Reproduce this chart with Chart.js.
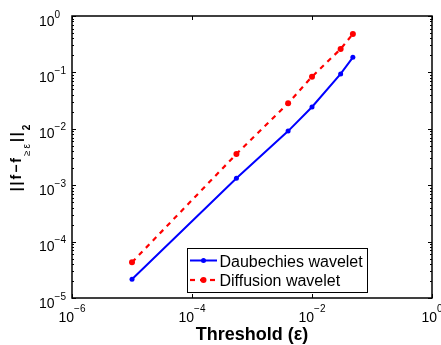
<!DOCTYPE html>
<html>
<head>
<meta charset="utf-8">
<script src="https://cdn.jsdelivr.net/npm/chart.js@4.4.0/dist/chart.umd.min.js"></script>
<style>
  html, body { margin: 0; padding: 0; background: #fff; }
  #wrap { width: 441px; height: 345px; }
</style>
</head>
<body>
<div id="wrap"><canvas id="errChart" width="441" height="345"></canvas></div>
<script>
// threshold values and the l2 error of each reconstruction
var threshold = [1e-5, 5.5e-4, 4e-3, 1e-2, 3e-2, 4.8e-2];
var daubechies = [2.15e-5, 1.33e-3, 9.1e-3, 2.44e-2, 9.4e-2, 1.85e-1];
var diffusion = [4.3e-5, 3.57e-3, 2.83e-2, 8.4e-2, 2.6e-1, 4.8e-1];
var seriesNames = ['Daubechies wavelet', 'Diffusion wavelet'];

// tick labels are 10^exp
var xTickExp = [-6, -4, -2, 0];
var yTickExp = [-5, -4, -3, -2, -1, 0];

var FONT = "'Liberation Sans', Arial, Helvetica, sans-serif";
var MINUS = '\u2212';

function pts(vals) {
    return threshold.map(function (t, i) { return { x: t, y: vals[i] }; });
}

function expText(e) {
    return (e < 0 ? MINUS : '') + Math.abs(e);
}

function seg(ctx, x1, y1, x2, y2) {
    ctx.beginPath();
    ctx.moveTo(x1, y1);
    ctx.lineTo(x2, y2);
    ctx.stroke();
}

// box, inward ticks and 10^n labels
var axesBox = {
    id: 'axesBox',
    afterDatasetsDraw: function (chart) {
        var ctx = chart.ctx, a = chart.chartArea;
        var xs = chart.scales.x, ys = chart.scales.y;
        ctx.save();
        ctx.strokeStyle = '#000';
        ctx.lineWidth = 1;

        xTickExp.forEach(function (e) {
            var px = Math.round(xs.getPixelForValue(Math.pow(10, e))) + 0.5;
            seg(ctx, px, a.bottom, px, a.bottom - 4);
            seg(ctx, px, a.top, px, a.top + 4);
        });

        for (var e = yTickExp[0]; e < yTickExp[yTickExp.length - 1]; e++) {
            for (var m = 1; m < 10; m++) {
                var py = Math.round(ys.getPixelForValue(m * Math.pow(10, e))) + 0.5;
                var len = m === 1 ? 4 : 2;
                seg(ctx, a.left, py, a.left + len, py);
                seg(ctx, a.right, py, a.right - len, py);
            }
        }
        var topY = Math.round(ys.getPixelForValue(1)) + 0.5;
        seg(ctx, a.left, topY, a.left + 4, topY);
        seg(ctx, a.right, topY, a.right - 4, topY);

        ctx.lineWidth = 1.5;
        ctx.strokeRect(a.left, a.top, a.right - a.left, a.bottom - a.top);

        ctx.fillStyle = '#000';
        ctx.textBaseline = 'alphabetic';
        ctx.textAlign = 'left';

        // x labels, centred under each tick
        xTickExp.forEach(function (e) {
            var px = xs.getPixelForValue(Math.pow(10, e));
            ctx.font = '14px ' + FONT;
            var w1 = ctx.measureText('10').width;
            ctx.font = '10px ' + FONT;
            var w2 = ctx.measureText(expText(e)).width;
            var x0 = px - (w1 + w2) / 2;
            ctx.font = '14px ' + FONT;
            ctx.fillText('10', x0, a.bottom + 24);
            ctx.font = '10px ' + FONT;
            ctx.fillText(expText(e), x0 + w1, a.bottom + 14);
        });

        // y labels
        yTickExp.forEach(function (e) {
            var py = ys.getPixelForValue(Math.pow(10, e));
            ctx.font = '14px ' + FONT;
            var w1 = ctx.measureText('10').width;
            ctx.fillText('10', 39, py + 9.5);
            ctx.font = '10px ' + FONT;
            ctx.fillText(expText(e), 39 + w1, py + 1.5);
        });

        // x title
        ctx.font = 'bold 18px ' + FONT;
        ctx.textAlign = 'center';
        ctx.fillText('Threshold (\u03b5)', (a.left + a.right) / 2, 339.5);

        // y title ||f-f_{>=eps}||_2, rotated
        ctx.textAlign = 'left';
        ctx.translate(21, (a.top + a.bottom) / 2);
        ctx.rotate(-Math.PI / 2);
        ctx.letterSpacing = '2px';
        var parts = [
            { t: '||f' + MINUS + 'f', f: 'bold 14px ', dy: 0 },
            { t: '\u2265\u03b5', f: '10px ', dy: 9 },
            { t: '||', f: 'bold 14px ', dy: 0 },
            { t: '2', f: 'bold 10px ', dy: 9 }
        ];
        var total = 0;
        parts.forEach(function (p) {
            ctx.font = p.f + FONT;
            p.w = ctx.measureText(p.t).width;
            total += p.w;
        });
        var cx = -total / 2;
        parts.forEach(function (p) {
            ctx.font = p.f + FONT;
            ctx.fillText(p.t, cx, p.dy);
            cx += p.w;
        });
        ctx.restore();
    }
};

// boxed legend placed inside the axes
var boxLegend = {
    id: 'boxLegend',
    afterDraw: function (chart) {
        var ctx = chart.ctx, a = chart.chartArea;
        var bx = a.right - 245, by = a.bottom - 50, bw = 180, bh = 44;
        ctx.save();
        ctx.fillStyle = '#fff';
        ctx.fillRect(bx, by, bw, bh);
        ctx.strokeStyle = '#000';
        ctx.lineWidth = 1;
        ctx.strokeRect(bx + 0.5, by + 0.5, bw, bh);

        chart.data.datasets.forEach(function (ds, i) {
            var ry = by + 12.5 + i * 19.5;
            ctx.strokeStyle = ds.borderColor;
            ctx.lineWidth = ds.borderWidth;
            ctx.setLineDash(ds.borderDash || []);
            seg(ctx, bx + 3, ry, bx + 30, ry);
            ctx.setLineDash([]);
            ctx.fillStyle = ds.pointBackgroundColor;
            ctx.beginPath();
            ctx.arc(bx + 16.5, ry, ds.pointRadius, 0, Math.PI * 2);
            ctx.fill();

            ctx.fillStyle = '#000';
            ctx.font = '16px ' + FONT;
            ctx.textAlign = 'left';
            ctx.textBaseline = 'alphabetic';
            ctx.fillText(ds.label, bx + 32.5, ry + 6);
        });
        ctx.restore();
    }
};

var ctx = document.getElementById('errChart').getContext('2d');
var errChart = new Chart(ctx, {
    type: 'line',
    data: {
        datasets: [{
            label: seriesNames[0],
            data: pts(daubechies),
            borderColor: '#0000ff',
            backgroundColor: '#0000ff',
            pointBackgroundColor: '#0000ff',
            borderWidth: 2,
            pointRadius: 2.5,
            pointBorderWidth: 0,
            tension: 0
        }, {
            label: seriesNames[1],
            data: pts(diffusion),
            borderColor: '#ff0000',
            backgroundColor: '#ff0000',
            pointBackgroundColor: '#ff0000',
            borderWidth: 2.2,
            borderDash: [5, 5],
            pointRadius: 3,
            pointBorderWidth: 0,
            tension: 0
        }]
    },
    options: {
        responsive: false,
        animation: false,
        devicePixelRatio: 1,
        layout: { padding: { left: 72, right: 9, top: 16, bottom: 47 } },
        scales: {
            x: { type: 'logarithmic', min: 1e-6, max: 1, display: false },
            y: { type: 'logarithmic', min: 1e-5, max: 1, display: false }
        },
        plugins: {
            legend: { display: false },
            tooltip: { enabled: false }
        }
    },
    plugins: [axesBox, boxLegend]
});
</script>
</body>
</html>
